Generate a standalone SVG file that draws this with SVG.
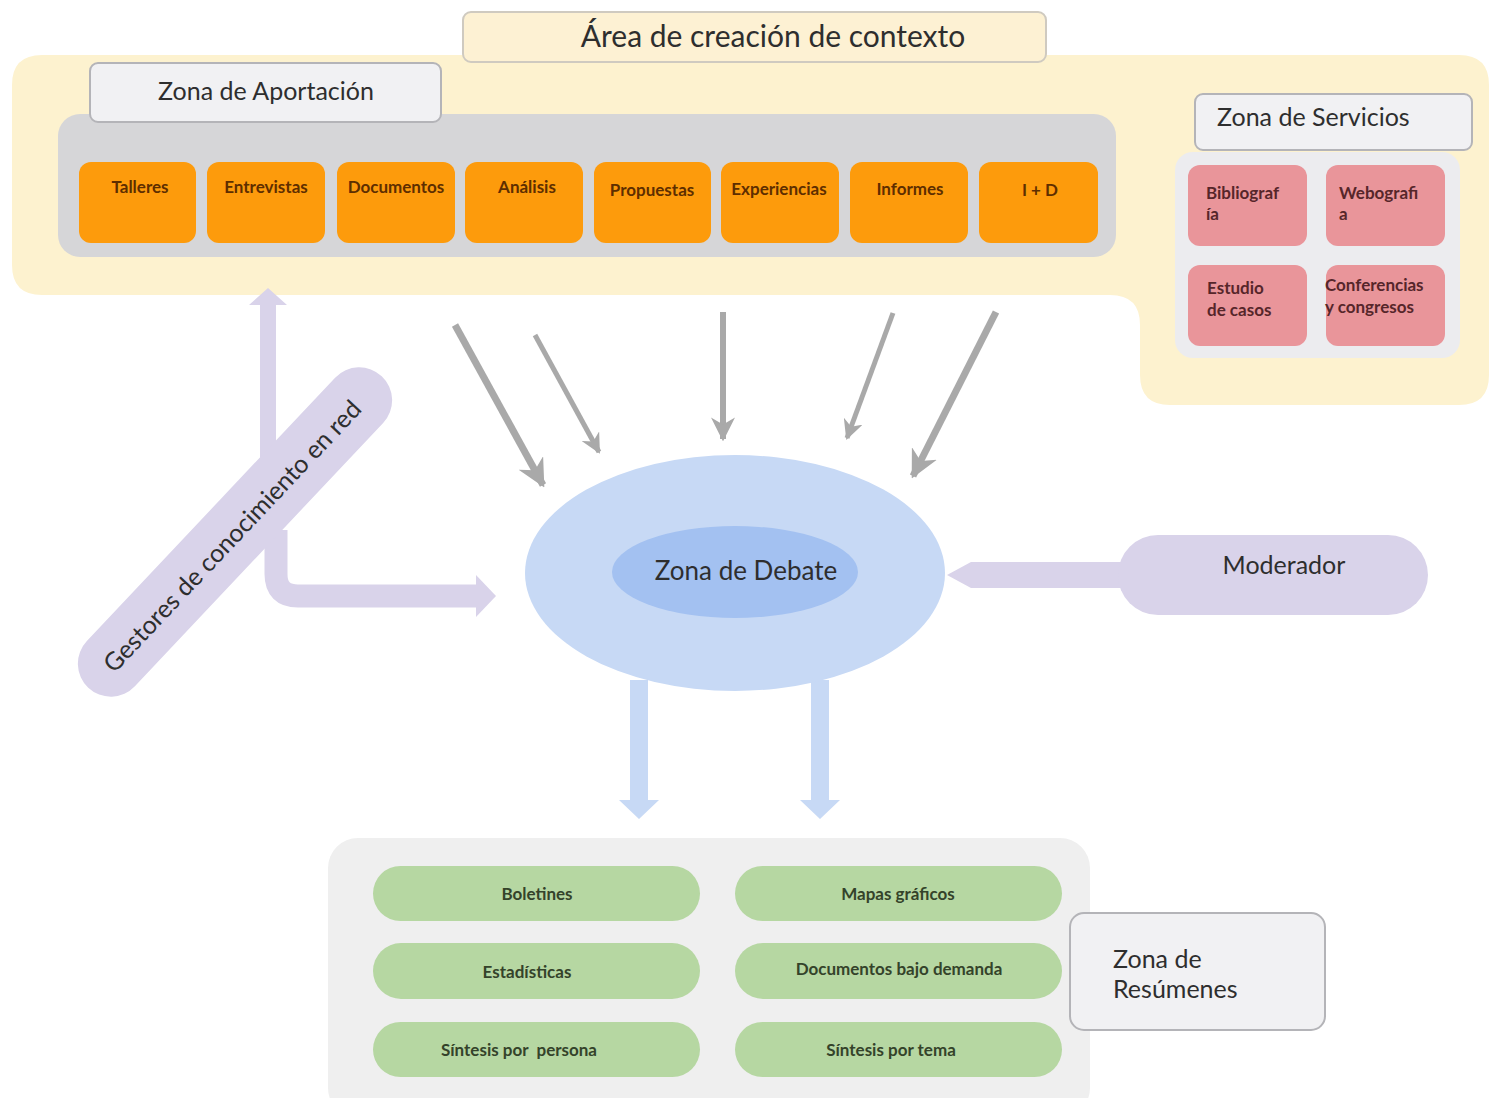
<svg xmlns="http://www.w3.org/2000/svg" width="1489" height="1098" viewBox="0 0 1489 1098">
<defs>
<marker id="gh" viewBox="0 0 10 10" refX="9" refY="5" markerWidth="4" markerHeight="4" orient="auto" markerUnits="strokeWidth">
<path d="M0,0 L10,5 L0,10 L3,5 Z" fill="#a9a9a9"/>
</marker>
<style>
.t{font-family:"Lato","Liberation Sans",sans-serif;}
.lbl{fill:#f1f1f3;stroke:#b4b4b8;stroke-width:2;}
.org{fill:#fd9b0c;}
.org-t{font-family:"Lato","Liberation Sans",sans-serif;font-size:17px;font-weight:bold;fill:#5e2e00;text-anchor:middle;}
.pink{fill:#e9959a;}
.pink-t{font-family:"Lato","Liberation Sans",sans-serif;font-size:17px;font-weight:bold;fill:#56262a;}
.grn{fill:#b6d7a2;}
.grn-t{font-family:"Lato","Liberation Sans",sans-serif;font-size:17px;font-weight:bold;fill:#34432a;text-anchor:middle;}
.gar{stroke:#a9a9a9;fill:none;stroke-linecap:butt;}
.pur{fill:#d9d3ea;}
.blu{fill:#c7d9f5;}
</style>
</defs>
<rect width="1489" height="1098" fill="#ffffff"/>

<g id="area-contexto">
<path d="M42 55 H1459 Q1489 55 1489 85 V375 Q1489 405 1459 405 H1170 Q1140 405 1140 375 V325 Q1140 295 1110 295 H42 Q12 295 12 265 V85 Q12 55 42 55 Z" fill="#fdf2cf"/>
<rect x="463" y="12" width="583" height="50" rx="8" fill="#fdf1d3" stroke="#cfcac0" stroke-width="2"/>
<text class="t" x="773" y="47" font-size="30" fill="#2e2e2e" text-anchor="middle">Área de creación de contexto</text>
</g>

<g id="zona-aportacion">
<rect x="58" y="114" width="1058" height="143" rx="22" fill="#d6d6d8"/>
<rect class="lbl" x="90" y="63" width="351" height="59" rx="8"/>
<text class="t" x="266" y="100" font-size="25" fill="#2e2e2e" text-anchor="middle">Zona de Aportación</text>
</g>

<g id="talleres"><rect class="org" x="79" y="162" width="117" height="81" rx="12"/><text class="org-t" x="140" y="193">Talleres</text></g>
<g id="entrevistas"><rect class="org" x="207" y="162" width="118" height="81" rx="12"/><text class="org-t" x="266" y="193">Entrevistas</text></g>
<g id="documentos"><rect class="org" x="337" y="162" width="118" height="81" rx="12"/><text class="org-t" x="396" y="193">Documentos</text></g>
<g id="analisis"><rect class="org" x="465" y="162" width="118" height="81" rx="12"/><text class="org-t" x="527" y="193">Análisis</text></g>
<g id="propuestas"><rect class="org" x="594" y="162" width="117" height="81" rx="12"/><text class="org-t" x="652" y="196">Propuestas</text></g>
<g id="experiencias"><rect class="org" x="721" y="162" width="118" height="81" rx="12"/><text class="org-t" x="779" y="195">Experiencias</text></g>
<g id="informes"><rect class="org" x="850" y="162" width="118" height="81" rx="12"/><text class="org-t" x="910" y="195">Informes</text></g>
<g id="id"><rect class="org" x="979" y="162" width="119" height="81" rx="12"/><text class="org-t" x="1040" y="196">I + D</text></g>

<g id="zona-servicios">
<rect x="1175" y="152" width="285" height="206" rx="18" fill="#ececef"/>
<rect class="lbl" x="1195" y="94" width="277" height="56" rx="8"/>
<text class="t" x="1217" y="126" font-size="25" fill="#2e2e2e">Zona de Servicios</text>
</g>
<g id="bibliografia"><rect class="pink" x="1188" y="165" width="119" height="81" rx="12"/><text class="pink-t" x="1206" y="199">Bibliograf</text><text class="pink-t" x="1206" y="220">ía</text></g>
<g id="webografia"><rect class="pink" x="1326" y="165" width="119" height="81" rx="12"/><text class="pink-t" x="1339" y="199">Webografi</text><text class="pink-t" x="1339" y="220">a</text></g>
<g id="estudio"><rect class="pink" x="1188" y="265" width="119" height="81" rx="12"/><text class="pink-t" x="1207" y="294">Estudio</text><text class="pink-t" x="1207" y="316">de casos</text></g>
<g id="conferencias"><rect class="pink" x="1326" y="265" width="119" height="81" rx="12"/><text class="pink-t" x="1325" y="291">Conferencias</text><text class="pink-t" x="1325" y="313">y congresos</text></g>

<g id="connectors">
<line class="gar" x1="455" y1="325" x2="543" y2="485" stroke-width="7" marker-end="url(#gh)"/>
<line class="gar" x1="535" y1="335" x2="599" y2="452" stroke-width="5" marker-end="url(#gh)"/>
<line class="gar" x1="723" y1="312" x2="723" y2="439" stroke-width="6" marker-end="url(#gh)"/>
<line class="gar" x1="893" y1="313" x2="847" y2="438" stroke-width="5" marker-end="url(#gh)"/>
<line class="gar" x1="996" y1="312" x2="913" y2="476" stroke-width="7" marker-end="url(#gh)"/>
<path class="pur" d="M260 470 V305 H249 L268 288 L287 305 H276 V470 Z"/>
<path d="M276 530 V574 Q276 596 298 596 H477" fill="none" stroke="#d9d3ea" stroke-width="23"/>
<path class="pur" d="M476 575 L496 596 L476 617 Z"/>
<path class="blu" d="M630 680 V800 H619 L639 819 L659 800 H648 V680 Z"/>
<path class="blu" d="M811 680 V800 H800 L820 819 L840 800 H829 V680 Z"/>
<path class="pur" d="M1130 562 H971 L947 575 L971 588 H1130 Z"/>
</g>

<g id="gestores">
<rect class="pur" x="-214" y="-33" width="428" height="66" rx="33" transform="translate(235,532) rotate(-46.7)"/>
<text class="t" x="0" y="9" font-size="25" fill="#2e2e2e" text-anchor="middle" transform="translate(232,536) rotate(-46.7)">Gestores de conocimiento en red</text>
</g>

<g id="zona-debate">
<ellipse cx="735" cy="573" rx="210" ry="118" class="blu"/>
<ellipse cx="735" cy="572" rx="123" ry="46" fill="#a3c1f1"/>
<text class="t" x="746" y="580" font-size="26" fill="#2e2e2e" text-anchor="middle">Zona de Debate</text>
</g>

<g id="moderador">
<rect class="pur" x="1118" y="535" width="310" height="80" rx="40"/>
<text class="t" x="1284" y="574" font-size="25" fill="#2e2e2e" text-anchor="middle">Moderador</text>
</g>

<g id="zona-resumenes">
<rect x="328" y="838" width="762" height="280" rx="30" fill="#efefef"/>
<rect class="lbl" x="1070" y="913" width="255" height="117" rx="14"/>
<text class="t" x="1113" y="968" font-size="25" fill="#2e2e2e">Zona de</text>
<text class="t" x="1113" y="998" font-size="25" fill="#2e2e2e">Resúmenes</text>
</g>
<g id="boletines"><rect class="grn" x="373" y="866" width="327" height="55" rx="27.5"/><text class="grn-t" x="537" y="900">Boletines</text></g>
<g id="mapas"><rect class="grn" x="735" y="866" width="327" height="55" rx="27.5"/><text class="grn-t" x="898" y="900">Mapas gráficos</text></g>
<g id="estadisticas"><rect class="grn" x="373" y="943" width="327" height="56" rx="28"/><text class="grn-t" x="527" y="978">Estadísticas</text></g>
<g id="documentos-demanda"><rect class="grn" x="735" y="943" width="327" height="56" rx="28"/><text class="grn-t" x="899" y="975">Documentos bajo demanda</text></g>
<g id="sintesis-persona"><rect class="grn" x="373" y="1022" width="327" height="55" rx="27.5"/><text class="grn-t" x="519" y="1056" style="white-space:pre">Síntesis por  persona</text></g>
<g id="sintesis-tema"><rect class="grn" x="735" y="1022" width="327" height="55" rx="27.5"/><text class="grn-t" x="891" y="1056">Síntesis por tema</text></g>
</svg>
